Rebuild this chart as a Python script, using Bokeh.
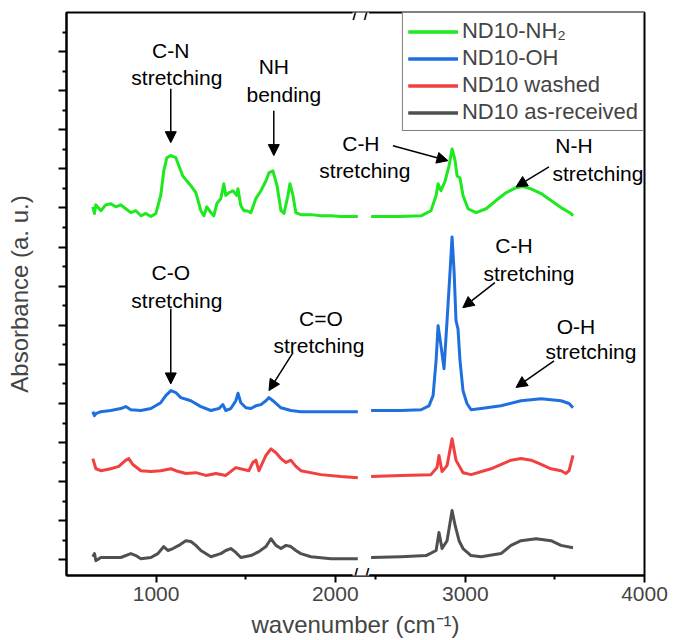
from bokeh.plotting import figure
from bokeh.models import (ColumnDataSource, FixedTicker, Legend, LegendItem, Label,
                          Arrow, NormalHead, Range1d)
from bokeh.embed import file_html
from bokeh.resources import INLINE

# ---------------- data (wavenumber cm^-1, absorbance a.u., stacked) ----------------
nh2_wn = [647, 656, 664, 692, 719, 747, 775, 803, 831, 859, 887, 915, 943, 971, 999,
          1026, 1043, 1060, 1083, 1110, 1127, 1149, 1172, 1194, 1222, 1250, 1267, 1283, 1306, 1322,
          1339, 1361, 1378, 1389, 1406, 1429, 1451, 1457, 1473, 1490, 1507, 1529, 1557, 1585, 1613,
          1630, 1652, 1675, 1697, 1714, 1736, 1747, 1764, 1780, 1808, 1864, 1920, 1976, 2031, 2126,
          2474, 2641, 2753, 2808, 2837, 2848, 2864, 2887, 2909, 2926, 2943, 2954, 2970, 2987, 3015,
          3060, 3116, 3171, 3227, 3283, 3322, 3367, 3423, 3478, 3534, 3590, 3601]
nh2_ab = [9.03, 8.86, 9.08, 8.93, 9.08, 9.11, 9.03, 9.08, 8.98, 8.88, 8.93, 8.80, 8.86, 8.78, 8.86,
          9.32, 9.95, 10.29, 10.34, 10.29, 10.08, 9.82, 9.69, 9.57, 9.39, 8.93, 8.80, 9.03, 8.88, 8.80,
          9.11, 9.24, 9.62, 9.32, 9.39, 9.44, 9.32, 9.49, 9.06, 8.93, 8.93, 8.88, 9.24, 9.44, 9.69,
          9.90, 9.95, 9.57, 8.93, 8.86, 9.32, 9.62, 9.32, 8.88, 8.83, 8.83, 8.80, 8.80, 8.78, 8.78,
          8.78, 8.78, 8.80, 8.93, 9.32, 9.62, 9.44, 9.69, 10.08, 10.51, 10.21, 9.82, 9.77, 9.32, 8.98,
          8.88, 8.98, 9.19, 9.39, 9.52, 9.55, 9.49, 9.37, 9.19, 9.01, 8.86, 8.80]

oh_wn = [647, 656, 664, 692, 747, 803, 831, 859, 915, 971, 1026, 1054, 1083, 1110, 1138,
         1194, 1250, 1306, 1350, 1373, 1389, 1417, 1445, 1457, 1473, 1501, 1529, 1557, 1585, 1613,
         1630, 1652, 1669, 1697, 1752, 1808, 1920, 2126,
         2474, 2641, 2753, 2797, 2820, 2837, 2848, 2864, 2881, 2898, 2915, 2926, 2937, 2948, 2959,
         2970, 2987, 3009, 3032, 3088, 3199, 3311, 3423, 3534, 3579, 3601]
oh_ab = [3.79, 3.69, 3.74, 3.79, 3.82, 3.87, 3.92, 3.84, 3.82, 3.87, 4.02, 4.20, 4.33, 4.28, 4.15,
         4.07, 3.92, 3.82, 3.87, 3.97, 3.82, 3.87, 4.07, 4.26, 4.02, 3.89, 3.87, 3.94, 3.97, 4.07,
         4.15, 4.07, 4.00, 3.89, 3.82, 3.79, 3.79, 3.79,
         3.82, 3.82, 3.84, 3.94, 4.20, 5.11, 5.99, 5.48, 4.89, 6.12, 7.40, 8.26, 7.40, 6.12, 5.91,
         5.11, 4.33, 4.00, 3.84, 3.87, 3.94, 4.07, 4.12, 4.07, 4.00, 3.89]

wash_wn = [647, 664, 692, 747, 792, 831, 848, 870, 915, 971, 1026, 1083, 1110, 1166, 1222,
           1278, 1334, 1389, 1445, 1518, 1540, 1557, 1574, 1613, 1641, 1669, 1697, 1725, 1752, 1780,
           1808, 1920, 2031, 2126,
           2474, 2641, 2808, 2842, 2853, 2870, 2898, 2926, 2948, 2965, 2987, 3032, 3143, 3255, 3311,
           3367, 3423, 3478, 3534, 3562, 3579, 3601]
wash_ab = [2.59, 2.33, 2.28, 2.33, 2.39, 2.55, 2.59, 2.44, 2.28, 2.26, 2.28, 2.33, 2.28, 2.21, 2.23,
           2.16, 2.21, 2.16, 2.36, 2.28, 2.49, 2.55, 2.28, 2.67, 2.84, 2.74, 2.59, 2.49, 2.55, 2.39,
           2.28, 2.18, 2.13, 2.10,
           2.13, 2.16, 2.18, 2.36, 2.67, 2.26, 2.41, 3.10, 2.55, 2.41, 2.23, 2.18, 2.33, 2.55, 2.59,
           2.55, 2.44, 2.33, 2.28, 2.21, 2.28, 2.67]

recv_wn = [647, 656, 664, 692, 747, 803, 859, 887, 915, 971, 1010, 1043, 1066, 1094, 1127,
           1166, 1194, 1222, 1250, 1306, 1361, 1389, 1417, 1445, 1473, 1529, 1574, 1613, 1641, 1669,
           1697, 1725, 1752, 1780, 1808, 1864, 1976, 2126,
           2474, 2641, 2781, 2837, 2853, 2870, 2898, 2926, 2943, 2965, 2987, 3032, 3088, 3199, 3255,
           3311, 3395, 3478, 3534, 3601]
recv_ab = [0.08, 0.16, -0.02, 0.06, 0.06, 0.06, 0.16, 0.11, 0.03, 0.06, 0.16, 0.34, 0.24, 0.29, 0.37,
           0.49, 0.47, 0.37, 0.24, 0.08, 0.16, 0.24, 0.29, 0.19, 0.06, 0.11, 0.21, 0.34, 0.54, 0.37,
           0.29, 0.37, 0.34, 0.24, 0.16, 0.08, 0.03, 0.03,
           0.06, 0.08, 0.11, 0.24, 0.70, 0.29, 0.49, 1.26, 0.88, 0.49, 0.29, 0.11, 0.08, 0.16, 0.37,
           0.49, 0.54, 0.49, 0.37, 0.31]

series_names = ["ND10-NH\u2082", "ND10-OH", "ND10 washed", "ND10 as-received"]
series_colors = ["#1ee81e", "#1f6fdf", "#f04040", "#505050"]

x_major = [1000, 2000, 3000, 4000]
x_minor = [1500, 2500, 3500]
x_labels = ["1000", "2000", "3000", "4000"]

# broken axis: 500-2130 | 2400-4000, the upper part shifted left
BREAK_AT = 2300
SHIFT = 274


def brk(w):
    return w if w < BREAK_AT else w - SHIFT


FONT = "Liberation Sans"

p = figure(width=684, height=640, x_range=Range1d(500, brk(4000)), y_range=Range1d(-0.4, 14),
           output_backend="svg", toolbar_location=None,
           min_border_left=66, min_border_right=40, min_border_top=12, min_border_bottom=65)
p.xgrid.visible = False
p.ygrid.visible = False
p.outline_line_color = "black"
p.outline_line_width = 2
p.background_fill_color = "white"
p.border_fill_color = "white"

items = []
data = [(nh2_wn, nh2_ab), (oh_wn, oh_ab), (wash_wn, wash_ab), (recv_wn, recv_ab)]
for (wn, ab), name, col in zip(data, series_names, series_colors):
    rends = []
    for side in (0, 1):
        xs = [brk(w) for w in wn if (w < BREAK_AT) == (side == 0)]
        ys = [a for w, a in zip(wn, ab) if (w < BREAK_AT) == (side == 0)]
        src = ColumnDataSource(dict(x=xs, y=ys))
        r = p.line("x", "y", source=src, line_color=col, line_width=3, line_join="round")
        rends.append(r)
    items.append(LegendItem(label=name, renderers=rends))

legend = Legend(items=items, location="top_right", margin=0, padding=5, spacing=1,
                label_text_font=FONT, label_text_font_size="22px", label_height=25,
                glyph_width=50, glyph_height=25, label_standoff=4,
                border_line_color="black", border_line_width=1.5,
                background_fill_color="white", background_fill_alpha=1)
p.add_layout(legend)

# axes
xa = p.xaxis[0]
xa.ticker = FixedTicker(ticks=[brk(v) for v in x_major], minor_ticks=[brk(v) for v in x_minor])
xa.major_label_overrides = {brk(v): s for v, s in zip(x_major, x_labels)}
xa.axis_label = "wavenumber (cm\u207b\u00b9)"
xa.axis_label_text_font = FONT
xa.axis_label_text_font_style = "normal"
xa.axis_label_text_font_size = "24px"
xa.axis_label_standoff = 7
xa.major_label_text_font = FONT
xa.major_label_text_font_size = "21px"
xa.major_label_standoff = 4
xa.major_tick_in = 0
xa.major_tick_out = 7
xa.minor_tick_in = 0
xa.minor_tick_out = 4
xa.axis_line_width = 2
xa.major_tick_line_width = 2
xa.minor_tick_line_width = 2
xa.axis_line_color = "black"

ya = p.yaxis[0]
ya.ticker = FixedTicker(ticks=list(range(14)), minor_ticks=[k + 0.5 for k in range(14)])
ya.major_label_overrides = {k: "" for k in range(14)}
ya.axis_label = "Absorbance (a. u.)"
ya.axis_label_text_font = FONT
ya.axis_label_text_font_style = "normal"
ya.axis_label_text_font_size = "24px"
ya.axis_label_standoff = 26
ya.major_tick_in = 0
ya.major_tick_out = 8
ya.minor_tick_in = 0
ya.minor_tick_out = 4
ya.axis_line_width = 2
ya.major_tick_line_width = 2
ya.minor_tick_line_width = 2

# axis-break marks
for yb in (-0.4, 14):
    p.add_layout(Label(x=2143, y=yb, text="/ /", text_align="center", text_baseline="middle",
                       text_font=FONT, text_font_size="20px", text_color="black",
                       background_fill_color="white", padding=0))

# annotations (display coordinates)
ann_text = [
    ("C-N", 1082, 13.02), ("stretching", 1116, 12.33),
    ("NH", 1657, 12.61), ("bending", 1713, 11.89),
    ("C-H", 2143, 10.64), ("stretching", 2165, 9.95),
    ("N-H", 3332, 10.59), ("stretching", 3466, 9.87),
    ("C-O", 1082, 7.34), ("stretching", 1116, 6.63),
    ("C=O", 1920, 6.17), ("stretching", 1909, 5.48),
    ("C-H", 2997, 8.04), ("stretching", 3081, 7.32),
    ("O-H", 3343, 5.96), ("stretching", 3427, 5.32),
]
for t, x, y in ann_text:
    p.add_layout(Label(x=x, y=y, text=t, text_align="center", text_baseline="middle",
                       text_font=FONT, text_font_size="21px", text_color="black"))

arrows = [
    (1082, 12.05, 1082, 10.67),
    (1657, 11.49, 1657, 10.34),
    (2322, 10.59, 2629, 10.21),
    (3193, 10.05, 3009, 9.54),
    (1082, 6.42, 1082, 4.50),
    (1764, 5.30, 1630, 4.33),
    (2891, 7.09, 2712, 6.45),
    (3221, 5.09, 3009, 4.41),
]
for xs, ys, xe, ye in arrows:
    p.add_layout(Arrow(x_start=xs, y_start=ys, x_end=xe, y_end=ye, line_width=1.5,
                       line_color="black",
                       end=NormalHead(size=11, fill_color="black", line_color="black")))

open("out.html", "w").write(file_html(p, INLINE))
